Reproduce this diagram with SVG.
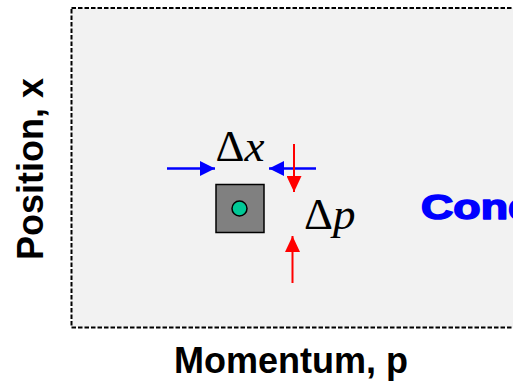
<svg xmlns="http://www.w3.org/2000/svg" width="513" height="381" viewBox="0 0 513 381">
<style>
.axis{font-family:"Liberation Sans",Arial,sans-serif;font-weight:bold;font-size:36px;fill:#000}
.sym{font-family:"Liberation Serif","Times New Roman",serif;font-size:45px;fill:#000}
.blue{stroke:#0000ff;stroke-width:2.6;fill:none}
.red{stroke:#ff0000;stroke-width:2;fill:none}
</style>
<defs>
<marker id="hb" viewBox="0 0 15 15" refX="15" refY="7.5" markerWidth="15" markerHeight="15" markerUnits="userSpaceOnUse" orient="auto">
<path d="M0,0 L15,7.5 L0,15 Z" fill="#0000ff"/>
</marker>
<marker id="hr" viewBox="0 0 16 15" refX="16" refY="7.5" markerWidth="16" markerHeight="15" markerUnits="userSpaceOnUse" orient="auto">
<path d="M0,0 L16,7.5 L0,15 Z" fill="#ff0000"/>
</marker>
</defs>
<rect width="513" height="381" fill="#ffffff"/>
<g id="phase-space">
<rect x="71.5" y="8" width="460" height="319.5" fill="#f2f2f2" stroke="#000" stroke-width="2" stroke-dasharray="4.5 2"/>
</g>
<g id="particle">
<rect x="216" y="184.5" width="48" height="48" fill="#808080" stroke="#000" stroke-width="1.5"/>
<circle cx="239.5" cy="208.5" r="7.5" fill="#00c896" stroke="#000" stroke-width="1.5"/>
</g>
<g id="connectors">
<line class="blue" x1="167" y1="168.5" x2="215" y2="168.5" marker-end="url(#hb)"/>
<line class="blue" x1="316" y1="168.5" x2="269" y2="168.5" marker-end="url(#hb)"/>
<line class="red" x1="294" y1="144" x2="294" y2="192" marker-end="url(#hr)"/>
<line class="red" x1="292.5" y1="283" x2="292.5" y2="236" marker-end="url(#hr)"/>
</g>
<g id="label-dx">
<text class="sym" x="215.5" y="160.5">Δ<tspan font-style="italic">x</tspan></text>
</g>
<g id="label-dp">
<text class="sym" x="304" y="228.5">Δ<tspan font-style="italic">p</tspan></text>
</g>
<g id="label-cond">
<text transform="translate(421,218.5) scale(1.28,1)" font-family="'Liberation Sans',Arial,sans-serif" font-weight="bold" font-size="35" fill="#0000ff" stroke="#0000ff" stroke-width="1.6" stroke-linejoin="round">Cond</text>
</g>
<g id="axis-x">
<text class="axis" x="291" y="373" text-anchor="middle">Momentum, p</text>
</g>
<g id="axis-y">
<text class="axis" transform="translate(43,169) rotate(-90)" text-anchor="middle">Position, x</text>
</g>
</svg>
